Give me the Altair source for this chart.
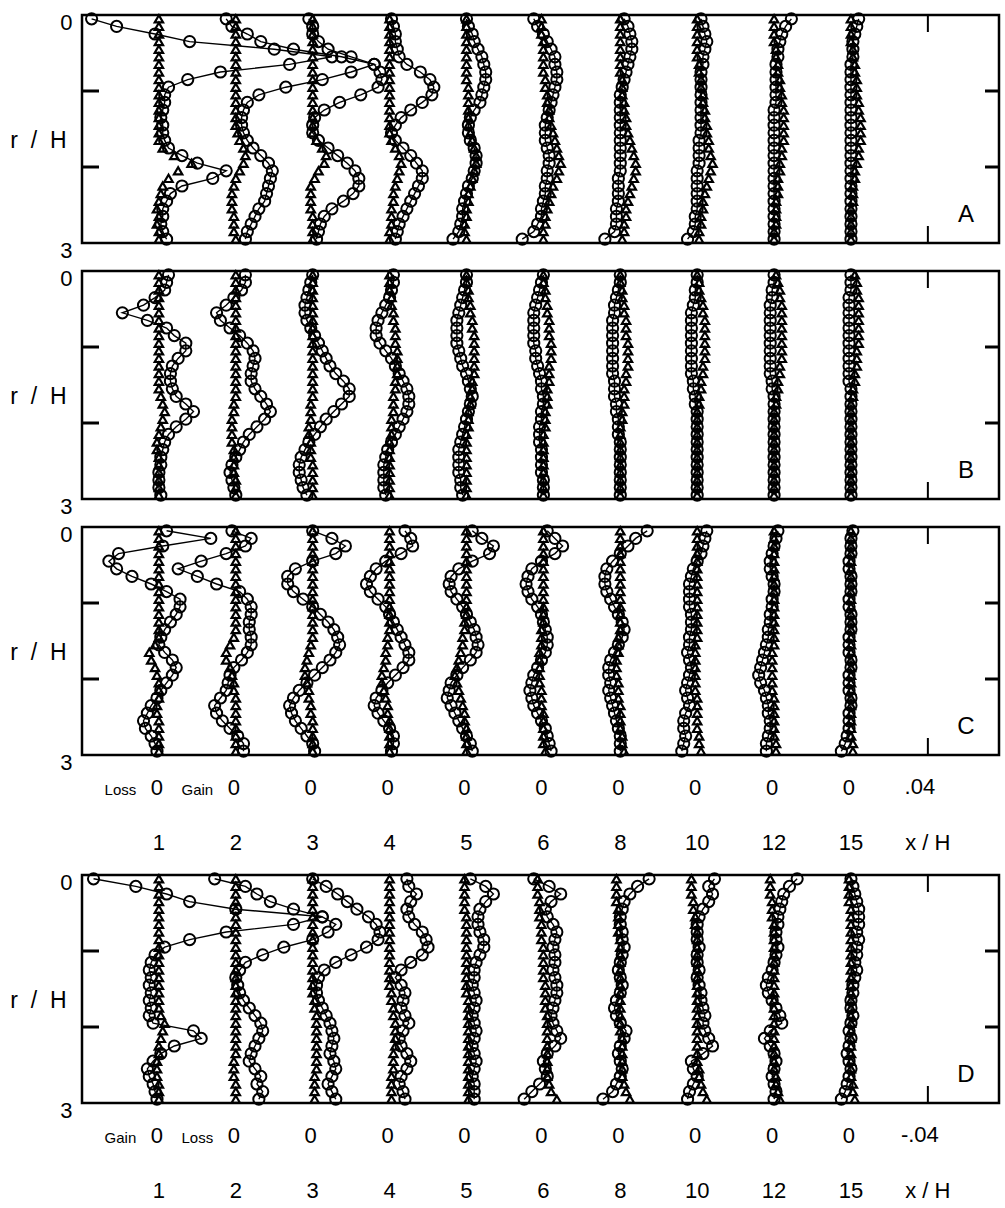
import altair as alt
import pandas as pd

FONT = "Liberation Sans"

# radial positions r/H of the measurement points
R = [0.05, 0.15, 0.25, 0.35, 0.45, 0.55, 0.65, 0.75, 0.85, 0.95,
     1.05, 1.15, 1.25, 1.35, 1.45, 1.55, 1.65, 1.75, 1.85, 1.95,
     2.05, 2.15, 2.25, 2.35, 2.45, 2.55, 2.65, 2.75, 2.85, 2.95]

# streamwise stations x/H
STATIONS = ["1", "2", "3", "4", "5", "6", "8", "10", "12", "15"]
SPACING = 40          # one station slot = 0.04  (values below in units of 0.001)
XDOM = [-40, 437]

# ---------------- Panel A ----------------
A_CIRCLES = [
    [-35, -22, -2, 16, 60, 90, 68, 32, 15, 5, 3, 3, 2, 1, 2, 2, 3, 5, 12, 20, 35, 28, 12, 6, 4, 2, 2, 1, 2, 4],
    [-5, -2, 6, 13, 30, 55, 72, 60, 45, 26, 12, 6, 4, 3, 3, 4, 6, 9, 13, 17, 19, 18, 17, 16, 15, 12, 10, 8, 6, 5],
    [-2, 0, 0, 3, 8, 20, 32, 35, 36, 34, 25, 14, 6, 1, 0, 0, 3, 8, 13, 18, 22, 24, 24, 21, 16, 10, 6, 4, 3, 2],
    [1, 2, 3, 3, 4, 5, 9, 16, 21, 23, 22, 17, 11, 6, 3, 1, 3, 7, 11, 14, 17, 17, 15, 13, 11, 9, 7, 5, 4, 3],
    [0, 1, 3, 4, 6, 8, 9, 10, 10, 9, 8, 7, 4, 2, 1, 1, 2, 4, 5, 5, 4, 3, 1, 0, -1, -2, -2, -3, -4, -7],
    [-5, -3, 0, 2, 4, 6, 6, 7, 7, 6, 5, 4, 3, 2, 1, 1, 1, 2, 3, 3, 2, 2, 1, 1, 0, -1, -1, -3, -5, -11],
    [2, 4, 5, 6, 6, 5, 4, 3, 2, 1, 0, 0, 0, 0, 0, 0, 0, 0, 0, 0, 0, -1, -1, -1, -1, -2, -2, -2, -3, -8],
    [2, 3, 4, 5, 4, 3, 3, 2, 2, 2, 2, 2, 2, 2, 2, 2, 1, 1, 1, 1, 0, 0, 0, 0, 0, 0, -1, -1, -2, -5],
    [9, 6, 4, 3, 2, 2, 1, 1, 1, 1, 1, 1, 0, 0, 0, 0, 0, 0, 0, 0, 0, 0, 0, 0, 0, 0, 0, 0, 0, 0],
    [4, 3, 2, 1, 1, 1, 0, 0, 0, 0, 0, 0, 0, 0, 0, 0, 0, 0, 0, 0, 0, 0, 0, 0, 0, 0, 0, 0, 0, 0],
]
A_TRIANGLES = [
    [0, 0, 0, 0, 0, 0, 0, 0, 0, 0, 0, 0, 0, 0, 0, 0, 0, 2, 8, 17, 10, 5, 2, 1, 0, -1, 0, -1, 0, 0],
    [0, 0, 0, 0, 0, 0, 0, 0, 0, 0, 0, 0, 0, 0, 0, 1, 2, 4, 5, 4, 2, 0, -1, -2, -2, -2, -1, -1, -1, 0],
    [0, 0, 0, 0, 0, 0, 0, 0, 0, 0, 0, 0, 0, 0, 0, 0, 2, 5, 7, 6, 3, 1, -1, -1, -1, -1, 0, 0, 0, 0],
    [0, 0, 0, 0, 0, 0, 0, 0, 0, 0, 0, 0, 0, 0, 0, 0, 1, 3, 5, 6, 5, 4, 3, 2, 2, 1, 1, 1, 0, 0],
    [0, 0, 0, 0, 0, 0, 0, 0, 0, 1, 1, 1, 1, 1, 1, 2, 3, 4, 5, 5, 4, 3, 2, 1, 1, 0, 0, -1, -1, 0],
    [-1, -1, -1, 0, 0, 0, 0, 0, 1, 1, 2, 2, 3, 3, 4, 5, 6, 7, 8, 9, 8, 7, 5, 4, 3, 2, 1, 1, 0, 0],
    [0, 0, 0, 0, 0, 0, 0, 0, 1, 1, 1, 2, 2, 3, 3, 4, 5, 6, 7, 8, 8, 7, 6, 5, 4, 3, 3, 2, 2, 1],
    [0, 0, 0, 0, 0, 0, 1, 1, 2, 2, 3, 3, 4, 4, 5, 5, 6, 6, 7, 8, 7, 6, 5, 4, 3, 3, 2, 2, 1, 1],
    [0, 0, 0, 0, 1, 1, 2, 2, 3, 3, 4, 4, 5, 5, 5, 5, 5, 4, 4, 3, 3, 2, 2, 2, 1, 1, 1, 1, 0, 0],
    [0, 0, 0, 0, 1, 1, 2, 2, 3, 3, 3, 4, 4, 5, 5, 5, 5, 4, 4, 3, 2, 2, 1, 1, 1, 0, 0, 0, 0, 0],
]

# ---------------- Panel B ----------------
B_CIRCLES = [
    [5, 4, 3, -2, -8, -19, -6, 4, 8, 14, 14, 10, 7, 6, 6, 7, 9, 14, 18, 14, 9, 5, 3, 2, 1, 1, 0, 0, 0, 1],
    [5, 5, 3, -1, -5, -10, -8, -3, 2, 6, 9, 10, 9, 8, 8, 10, 13, 16, 18, 15, 11, 7, 4, 2, 0, -2, -3, -2, -1, 0],
    [0, -1, -2, -3, -4, -4, -3, -1, 1, 3, 5, 7, 9, 12, 16, 19, 19, 15, 11, 7, 4, 1, -2, -4, -6, -7, -7, -6, -5, -3],
    [2, 2, 1, 0, -2, -4, -6, -7, -7, -5, -2, 1, 3, 5, 7, 9, 10, 10, 9, 7, 5, 3, 1, -1, -2, -3, -3, -3, -3, -2],
    [0, 0, -1, -2, -3, -4, -5, -5, -5, -5, -4, -3, -2, 0, 1, 2, 3, 2, 1, 0, -1, -2, -3, -4, -4, -4, -4, -3, -3, -2],
    [0, -1, -2, -3, -4, -5, -5, -5, -5, -5, -4, -4, -3, -2, -1, -1, 0, 0, -1, -1, -2, -2, -2, -1, -1, -1, -1, 0, 0, 0],
    [0, 0, -1, -2, -3, -3, -4, -4, -4, -4, -4, -4, -4, -4, -3, -3, -3, -2, -2, -1, -1, -1, 0, 0, 0, 0, 0, 0, 0, 0],
    [0, 0, -1, -1, -2, -3, -3, -3, -3, -3, -3, -3, -3, -3, -2, -2, -1, -1, 0, 0, 0, 0, 0, 0, 0, 0, 0, 0, 0, 0],
    [0, 0, -1, -1, -2, -2, -2, -2, -2, -2, -2, -2, -2, -2, -1, -1, 0, 0, 0, 0, 0, 0, 0, 0, 0, 0, 0, 0, 0, 0],
    [0, 0, 0, -1, -1, -1, -1, -1, -1, -1, -1, -1, -1, -1, -1, 0, 0, 0, 0, 0, 0, 0, 0, 0, 0, 0, 0, 0, 0, 0],
]
B_TRIANGLES = [
    [0, 0, 0, 0, 0, 0, 0, 0, 0, 0, 0, 0, 0, 0, 0, 0, 1, 2, 3, 2, 1, 0, -1, -1, 0, 0, 0, 0, 0, 0],
    [0, 0, 0, 0, 0, 0, 0, 0, 0, 0, 0, 0, 0, 0, 0, 0, 0, -1, -1, -2, -2, -2, -2, -1, -1, -1, -1, 0, 0, 0],
    [0, 0, 0, 0, 0, 0, 0, 0, 0, 0, 0, 0, 0, 0, 0, 0, 0, -1, -1, -1, -2, -2, -1, -1, -1, 0, 0, 0, 0, 0],
    [0, 0, 0, 1, 1, 2, 2, 3, 3, 3, 4, 4, 4, 4, 3, 3, 2, 2, 2, 1, 1, 1, 0, 0, 0, 0, 0, 0, 0, 0],
    [0, 0, 1, 1, 2, 2, 3, 3, 4, 4, 4, 4, 4, 4, 3, 3, 2, 2, 1, 1, 1, 0, 0, 0, 0, 0, 0, 0, 0, 0],
    [0, 0, 1, 1, 2, 2, 3, 3, 3, 4, 4, 4, 3, 3, 3, 2, 2, 2, 1, 1, 1, 0, 0, 0, 0, 0, 0, 0, 0, 0],
    [0, 0, 1, 1, 2, 2, 3, 3, 3, 4, 4, 4, 4, 3, 3, 2, 2, 2, 1, 1, 0, 0, 0, 0, 0, 0, 0, 0, 0, 0],
    [0, 1, 1, 2, 3, 3, 4, 4, 4, 4, 4, 4, 3, 3, 2, 2, 1, 1, 0, 0, 0, 0, 0, 0, 0, 0, 0, 0, 0, 0],
    [1, 2, 3, 3, 4, 4, 4, 4, 4, 4, 4, 4, 3, 3, 2, 2, 1, 1, 0, 0, 0, 0, 0, 0, 0, 0, 0, 0, 0, 0],
    [2, 3, 3, 4, 4, 4, 4, 4, 4, 4, 3, 3, 3, 2, 2, 1, 1, 0, 0, 0, 0, 0, 0, 0, 0, 0, 0, 0, 0, 0],
]

# ---------------- Panel C ----------------
C_CIRCLES = [
    [4, 27, 2, -21, -26, -22, -14, -4, 4, 11, 11, 9, 6, 3, 1, 0, 3, 7, 9, 7, 4, 1, -1, -4, -6, -8, -7, -4, -2, -1],
    [-2, 8, 5, -5, -18, -30, -20, -10, 2, 6, 8, 8, 7, 7, 8, 8, 6, 3, -1, -3, -4, -5, -8, -11, -10, -7, -3, 1, 4, 4],
    [0, 10, 17, 12, 0, -9, -13, -13, -10, -5, 0, 4, 8, 11, 13, 14, 12, 9, 5, 1, -3, -7, -10, -12, -11, -9, -6, -3, 0, 1],
    [8, 11, 12, 6, -2, -7, -10, -12, -10, -6, -2, 0, 2, 4, 6, 8, 10, 10, 7, 3, -1, -4, -7, -8, -6, -3, 0, 2, 2, 1],
    [3, 8, 14, 12, 3, -4, -8, -9, -8, -5, -2, 0, 2, 4, 5, 6, 5, 2, -2, -5, -8, -9, -10, -8, -6, -4, -2, 0, 2, 3],
    [2, 6, 10, 6, -1, -6, -8, -9, -8, -6, -3, -1, 0, 1, 2, 2, 1, -1, -3, -5, -6, -7, -6, -5, -3, -1, 1, 2, 3, 4],
    [14, 8, 4, 0, -4, -7, -8, -8, -7, -5, -3, -1, 1, 2, 1, -1, -3, -5, -6, -6, -5, -6, -5, -4, -3, -2, -1, 0, 0, 0],
    [5, 4, 3, 2, 0, -2, -3, -4, -4, -4, -4, -3, -3, -3, -4, -4, -5, -4, -3, -4, -5, -6, -5, -4, -6, -7, -7, -6, -7, -8],
    [2, 1, 0, -1, -2, -2, -1, 0, 0, -1, -1, -2, -2, -3, -3, -4, -5, -6, -7, -8, -7, -5, -4, -3, -3, -2, -2, -3, -4, -4],
    [1, 0, 0, 0, -1, -1, 0, 0, 0, -1, -1, 0, 0, 0, -1, -1, -1, 0, 0, -1, -1, -1, 0, 0, -1, -1, -1, -2, -3, -5],
]
C_TRIANGLES = [
    [0, 0, 0, 0, 0, 0, 0, 0, 0, 0, 0, 0, 0, 0, 0, -2, -5, -4, -2, -1, 0, 0, 0, -1, -1, 0, 0, 0, 0, 0],
    [0, 0, 0, 0, 0, 0, 0, 0, 0, 0, 0, 0, 0, 0, -1, -3, -5, -5, -3, -2, -1, -1, 0, 0, 0, 0, 0, 0, 0, 0],
    [0, 0, 0, 0, 0, 0, 0, 0, 0, 0, 0, 0, 0, 0, 0, -1, -2, -3, -4, -4, -3, -2, -2, -1, -1, 0, 0, 0, 0, 0],
    [0, 0, 0, 0, 0, 0, 0, 0, 0, 0, 0, 0, 0, 0, -1, -1, -2, -2, -3, -4, -4, -3, -2, -1, -1, 0, 0, 0, 0, 0],
    [0, 0, 0, 0, 0, 0, 0, 0, 0, 0, 0, 0, -1, -1, -2, -2, -3, -4, -5, -6, -5, -4, -3, -2, -1, -1, 0, 0, 0, 0],
    [0, 0, 0, 0, 0, 0, 0, 0, 0, 0, 0, 0, 0, -1, -1, -1, -2, -2, -2, -2, -2, -1, -1, -1, 0, 0, 0, 0, 0, 1],
    [0, 0, 0, 0, 0, 0, 0, 0, 0, 0, 0, 0, 0, 0, -1, -1, -1, -2, -2, -2, -1, -1, -1, 0, 0, 0, 0, 1, 1, 2],
    [0, 0, 0, 0, 0, 0, 0, 0, 0, 0, 0, 0, 0, 0, 0, -1, -1, -1, -1, -1, -1, -1, 0, 0, 0, 0, 0, 1, 1, 2],
    [0, 0, 0, 0, 0, 0, 0, 0, 0, 0, 0, 0, 0, 0, 0, 0, -1, -1, -1, -1, -1, -1, 0, 0, 0, 0, 0, 0, 1, 1],
    [0, 0, 0, 0, 0, 0, 0, 0, 0, 0, 0, 0, 0, 0, 0, 0, 0, 0, 0, 0, 0, 0, 0, 0, 0, 0, 0, 0, 1, 1],
]

# ---------------- Panel D ----------------
D_CIRCLES = [
    [-34, -12, 4, 16, 40, 85, 70, 35, 16, 3, -2, -4, -5, -4, -5, -4, -5, -4, -5, -3, 18, 22, 8, 1, -3, -6, -5, -3, -2, -1],
    [-11, 5, 11, 18, 30, 45, 52, 48, 40, 25, 14, 5, 2, 0, 1, 2, 4, 7, 10, 13, 14, 12, 10, 8, 7, 10, 13, 11, 14, 12],
    [0, 7, 13, 18, 23, 29, 33, 35, 34, 28, 20, 12, 6, 3, 2, 2, 3, 5, 7, 9, 10, 11, 10, 9, 11, 12, 10, 8, 10, 12],
    [9, 10, 14, 11, 9, 10, 13, 17, 19, 20, 17, 11, 6, 3, 6, 8, 7, 6, 8, 10, 7, 5, 6, 9, 11, 9, 6, 5, 7, 8],
    [2, 10, 14, 10, 7, 6, 6, 7, 9, 9, 7, 5, 4, 4, 3, 4, 5, 4, 3, 4, 5, 4, 3, 4, 5, 4, 3, 4, 4, 4],
    [-5, 3, 9, 4, 1, 2, 5, 7, 6, 5, 6, 6, 5, 6, 7, 7, 6, 5, 4, 5, 7, 9, 6, 2, 0, 1, 2, -2, -6, -10],
    [15, 9, 5, 2, 1, 0, 0, 1, 1, 2, 1, 0, -1, 0, 1, 0, -2, -3, -2, 0, 3, 2, 0, -1, 0, 1, 0, -2, -4, -9],
    [9, 6, 8, 6, 3, 1, 0, 0, 0, 1, 0, 0, 1, 0, 1, 2, 2, 3, 4, 3, 4, 6, 8, 3, -3, -2, 0, -2, -4, -5],
    [12, 8, 5, 4, 3, 2, 2, 1, 1, 2, 1, 0, -1, -3, -4, -3, -1, 1, 3, 4, -2, -5, -2, 0, 1, 0, -1, 0, 1, 0],
    [0, 1, 2, 3, 4, 4, 4, 3, 4, 3, 3, 2, 3, 2, 1, 1, 0, 0, 1, 0, -1, 0, -1, -2, -1, 0, -1, -2, -3, -5],
]
D_TRIANGLES = [
    [0, 0, 0, 0, 0, 0, 0, 0, 0, 0, 0, 0, 0, 0, 0, 0, 0, 0, 1, 3, 2, 1, 0, 0, -1, -1, -1, 0, 0, 0],
    [0, 0, 0, 0, 0, 0, 0, 0, 0, 0, 0, 0, 0, 0, 0, 0, 0, 0, 0, 0, 0, 0, 0, 0, -1, -1, -1, 0, 0, 0],
    [0, 0, 0, 0, 0, 0, 0, 0, 0, 0, 0, 0, 0, 0, 0, 0, 1, 1, 2, 2, 2, 2, 2, 2, 2, 2, 1, 1, 1, 1],
    [0, 0, 0, 0, 0, 0, 0, 0, 0, 0, 0, 0, 0, 0, 0, 1, 1, 2, 2, 3, 3, 3, 3, 2, 2, 2, 1, 1, 1, 1],
    [-1, -1, -1, -1, -1, 0, 0, 0, 0, 0, 0, 0, 0, 0, 0, 0, 1, 1, 1, 1, 1, 1, 1, 1, 1, 1, 1, 1, 1, 1],
    [-3, -3, -3, -2, -2, -2, -1, -1, -1, 0, 0, 0, 0, 0, 1, 1, 1, 1, 2, 2, 2, 2, 2, 2, 2, 2, 2, 3, 4, 7],
    [-2, -2, -2, -2, -1, -1, -1, -1, 0, 0, 0, 0, 0, 0, 0, 0, 0, 0, 0, 0, 0, 1, 1, 1, 1, 1, 1, 2, 3, 5],
    [-3, -3, -3, -2, -2, -1, -1, 0, 0, 0, 0, 0, 0, 0, 0, 0, 0, 0, 0, 0, 0, 0, 0, 0, 0, 1, 1, 2, 3, 5],
    [-2, -2, -2, -1, -1, -1, 0, 0, 0, 0, 0, 0, 0, 0, 0, 0, 0, 0, 0, 0, 0, 0, 0, 0, 0, 0, 1, 1, 2, 3],
    [-1, -1, -1, -1, 0, 0, 0, 0, 0, 0, 0, 0, 0, 0, 0, 0, 0, 0, 0, 0, 0, 0, 0, 0, 0, 0, 0, 1, 1, 2],
]

# labels under panels C and D
ZERO_LABEL = "0"
SIDE_WORDS_C = ["Loss", "Gain"]
SIDE_WORDS_D = ["Gain", "Loss"]
SIDE_WORD_POS = [-20, 20]
SCALE_LABEL_C = ".04"
SCALE_LABEL_D = "-.04"
AXIS_NAME = "x\u00a0/\u00a0H"

W, H = 917, 228
GAP_CD = 120
SPACE = 28
SCALE_POS = 10 * SPACING

xenc = alt.X("x:Q", scale=alt.Scale(domain=XDOM, nice=False, zero=False), axis=None)
yaxis = alt.Axis(values=[0, 3], ticks=False, domain=False, grid=False,
                 labelFontSize=22, labelFont=FONT, labelColor="black",
                 labelPadding=10, labelOffset=7,
                 title="r\u00a0\u00a0/\u00a0\u00a0H", titleAngle=0, titleAlign="right",
                 titleBaseline="middle", titleX=-16, titleY=125,
                 titleFontSize=23, titleFont=FONT, titleFontWeight="normal",
                 titleColor="black")
yenc = alt.Y("r:Q", scale=alt.Scale(domain=[0, 3], reverse=True, nice=False, zero=False), axis=yaxis)


def make_panel(letter, circles, triangles, words=None, scale_label=None):
    rows = []
    for i, st in enumerate(STATIONS):
        for j, r in enumerate(R):
            rows.append({"station": st, "r": r, "x": i * SPACING + circles[i][j], "order": j, "kind": "circle"})
            rows.append({"station": st, "r": r, "x": i * SPACING + triangles[i][j], "order": j, "kind": "triangle"})
    df = pd.DataFrame(rows)
    base = alt.Chart(df)
    circ = base.transform_filter(alt.datum.kind == "circle")
    line = circ.mark_line(color="black", strokeWidth=1.4).encode(
        x=xenc, y=yenc, detail="station:N", order="order:Q")
    pts = circ.mark_point(shape="circle", size=125, filled=False, color="black",
                          strokeWidth=2.0, opacity=1).encode(x=xenc, y=yenc)
    tris = base.transform_filter(alt.datum.kind == "triangle").mark_point(
        shape="triangle-up", size=70, filled=False, color="black",
        strokeWidth=2.2, opacity=1).encode(x=xenc, y=yenc)

    tick_df = pd.DataFrame({"r": [1, 2]})
    lt = alt.Chart(tick_df).mark_rule(color="black", strokeWidth=3).encode(
        y=yenc, x=alt.value(0), x2=alt.value(17))
    rt = alt.Chart(tick_df).mark_rule(color="black", strokeWidth=3).encode(
        y=yenc, x=alt.value(W - 14), x2=alt.value(W))
    sc_df = pd.DataFrame({"x": [SCALE_POS]})
    tt = alt.Chart(sc_df).mark_rule(color="black", strokeWidth=2).encode(
        x=xenc, y=alt.value(0), y2=alt.value(17))
    bt = alt.Chart(sc_df).mark_rule(color="black", strokeWidth=2).encode(
        x=xenc, y=alt.value(H - 17), y2=alt.value(H))
    let = alt.Chart(pd.DataFrame({"t": [letter]})).mark_text(
        fontSize=24, font=FONT, color="black", align="center", baseline="middle").encode(
        x=alt.value(884), y=alt.value(200), text="t:N")
    layers = [line, pts, tris, lt, rt, tt, bt, let]

    if words is not None:
        zero_df = pd.DataFrame({"x": [i * SPACING for i in range(len(STATIONS))],
                                "t": [ZERO_LABEL] * len(STATIONS)})
        layers.append(alt.Chart(zero_df).mark_text(
            fontSize=22, font=FONT, color="black", align="center", baseline="middle", dx=-2).encode(
            x=xenc, y=alt.value(H + 33), text="t:N"))
        word_df = pd.DataFrame({"x": SIDE_WORD_POS, "t": words})
        layers.append(alt.Chart(word_df).mark_text(
            fontSize=15, font=FONT, color="black", align="center", baseline="middle").encode(
            x=xenc, y=alt.value(H + 35), text="t:N"))
        sl_df = pd.DataFrame({"x": [SCALE_POS], "t": [scale_label]})
        layers.append(alt.Chart(sl_df).mark_text(
            fontSize=22, font=FONT, color="black", align="center", baseline="middle", dx=-8).encode(
            x=xenc, y=alt.value(H + 32), text="t:N"))
        st_df = pd.DataFrame({"x": [i * SPACING for i in range(len(STATIONS))] + [SCALE_POS],
                              "t": STATIONS + [AXIS_NAME]})
        layers.append(alt.Chart(st_df).mark_text(
            fontSize=22, font=FONT, color="black", align="center", baseline="middle").encode(
            x=xenc, y=alt.value(H + 88), text="t:N"))

    return alt.layer(*layers).properties(width=W, height=H)


pA = make_panel("A", A_CIRCLES, A_TRIANGLES)
pB = make_panel("B", B_CIRCLES, B_TRIANGLES)
pC = make_panel("C", C_CIRCLES, C_TRIANGLES, SIDE_WORDS_C, SCALE_LABEL_C)
pD = make_panel("D", D_CIRCLES, D_TRIANGLES, SIDE_WORDS_D, SCALE_LABEL_D)

# invisible spacer that widens the gap between panels C and D
spacer = alt.Chart(pd.DataFrame({"t": [""]})).mark_text(opacity=0).encode(
    text="t:N", x=alt.value(0), y=alt.value(0)
).properties(width=W, height=GAP_CD - 2 * SPACE, view=alt.ViewBackground(stroke=None))

chart = alt.vconcat(pA, pB, pC, spacer, pD, spacing=SPACE, bounds="flush").configure_view(
    stroke="black", strokeWidth=2.5
).properties(
    background="white",
    padding={"left": 8, "top": 7, "right": 0, "bottom": 0},
)

chart.save("out.html", embed_options={"renderer": "svg", "actions": False})
